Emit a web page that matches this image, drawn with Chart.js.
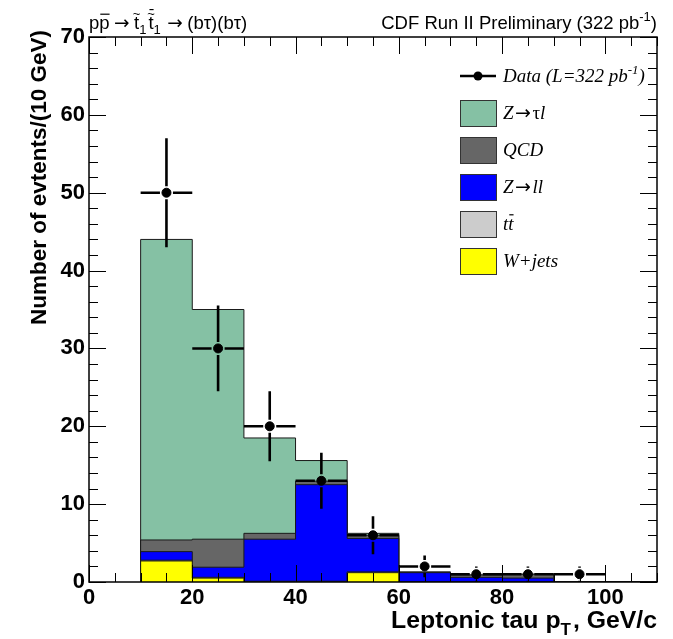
<!DOCTYPE html>
<html>
<head>
<meta charset="utf-8">
<script src="https://cdn.jsdelivr.net/npm/chart.js@4.4.1/dist/chart.umd.min.js"></script>
<style>
  html, body { margin: 0; padding: 0; background: #fff; }
</style>
</head>
<body>
<canvas id="tauChart" width="673" height="639"></canvas>
<script>
// bin edges in GeV/c (10 GeV bins)
const binEdges = [10, 20, 30, 40, 50, 60, 70, 80, 90, 100, 110];

// backgrounds, events per bin, bottom of the stack first
const wJets = [2.7, 0.5, 0, 0, 1.2, 0, 0, 0, 0, 0];
const ttbar = [0.1, 0.1, 0.1, 0.1, 0.1, 0, 0, 0, 0, 0];
const zLL = [1.1, 1.3, 5.4, 12.4, 4.3, 1.2, 0.6, 0.5, 0, 0];
const qcd = [1.5, 3.6, 0.75, 0.45, 0.4, 0.05, 0.3, 0.5, 0, 0];
const zTauL = [38.6, 29.5, 12.25, 2.65, 0.25, 0.05, 0, 0, 0, 0];

// data points with error bars
const dataX = [15, 25, 35, 45, 55, 65, 75, 85, 95];
const dataY = [50, 30, 20, 13, 6, 2, 1, 1, 1];
const dataLow = [43, 24.5, 15.5, 9.4, 3.55, 0.6, 0, 0, 0];
const dataHigh = [57, 35.5, 24.5, 16.6, 8.45, 3.4, 2, 2, 2];

const xTicks = [0, 20, 40, 60, 80, 100];
const yTicks = [0, 10, 20, 30, 40, 50, 60, 70];

const ARROW = { t: '\u2192', arrow: true, pad: 3 };
const WIDE_ARROW = { t: '\u2192', arrow: true, pad: 9 };

const components = [
    { label: [{ t: 'W+jets' }], values: wJets, color: '#ffff00' },
    { label: [{ t: 't' }, { t: 't', bar: true }], values: ttbar, color: '#cccccc' },
    { label: [{ t: 'Z' }, ARROW, { t: 'll' }], values: zLL, color: '#0000ff' },
    { label: [{ t: 'QCD' }], values: qcd, color: '#666666' },
    { label: [{ t: 'Z' }, ARROW, { t: '\u03c4', plain: true }, { t: 'l' }], values: zTauL, color: '#85c1a4' }
];
const dataLabel = [{ t: 'Data (L=322 pb' }, { t: '-1', sup: true }, { t: ')' }];

// cumulative stack drawn as filled step outlines
let running = wJets.map(() => 0);
const stackDatasets = components.map((c, i) => {
    running = running.map((v, j) => v + c.values[j]);
    const pts = [{ x: binEdges[0], y: 0 }];
    running.forEach((v, j) => pts.push({ x: binEdges[j], y: v }));
    pts.push({ x: binEdges[binEdges.length - 1], y: 0 });
    return {
        type: 'line',
        data: pts,
        stepped: 'before',
        fill: 'origin',
        backgroundColor: c.color,
        borderColor: '#1a1a1a',
        borderWidth: 1,
        pointRadius: 0,
        order: i + 1
    };
});

const dataDataset = {
    type: 'line',
    data: dataX.map((x, i) => ({ x: x, y: dataY[i] })),
    showLine: false,
    pointRadius: 4.5,
    pointBackgroundColor: '#000',
    pointBorderColor: '#000',
    order: 0
};

// draws a list of text pieces (subscripts, superscripts, overlines, tildes)
function drawRuns(ctx, runs, x, y, size, family, weight, style, align) {
    const fontFor = r => {
        const s = (r.sub || r.sup) ? Math.round(size * 0.68) : size;
        const st = (r.plain || r.arrow) ? 'normal' : style;
        const fam = r.arrow ? '"DejaVu Sans", sans-serif' : family;
        return st + ' ' + (r.arrow ? 'normal' : weight) + ' ' + s + 'px ' + fam;
    };
    let total = 0;
    runs.forEach(r => {
        ctx.font = fontFor(r);
        r.w = ctx.measureText(r.t).width + (r.pad || 0) + (r.sub ? 2 : 0);
        total += r.w;
    });
    let cx = align === 'right' ? x - total : x;
    ctx.textAlign = 'left';
    ctx.textBaseline = 'alphabetic';
    runs.forEach(r => {
        ctx.font = fontFor(r);
        const dy = r.sub ? size * 0.28 : (r.sup ? -size * 0.42 : 0);
        ctx.fillText(r.t, cx + (r.pad || 0) / 2, y + dy);
        let top = y - size * 0.8;
        if (r.tilde) {
            ctx.save();
            ctx.font = 'normal ' + Math.round(size * 0.7) + 'px ' + family;
            ctx.textAlign = 'center';
            ctx.fillText('~', cx + r.w / 2, y - size * 0.62);
            ctx.restore();
            top = y - size * 1.05;
        }
        if (r.bar) {
            ctx.save();
            ctx.lineWidth = 1.2;
            ctx.beginPath();
            ctx.moveTo(cx + 1, top);
            ctx.lineTo(cx + r.w, top);
            ctx.stroke();
            ctx.restore();
        }
        cx += r.w;
    });
}

const errorBars = {
    id: 'errorBars',
    afterDatasetsDraw(chart) {
        const { ctx, scales: { x, y } } = chart;
        const gap = 6.5;
        ctx.save();
        ctx.strokeStyle = '#000';
        ctx.lineWidth = 2.6;
        dataX.forEach((v, i) => {
            const px = x.getPixelForValue(v);
            const py = y.getPixelForValue(dataY[i]);
            const left = x.getPixelForValue(binEdges[i]);
            const right = x.getPixelForValue(binEdges[i + 1]);
            const top = y.getPixelForValue(dataHigh[i]);
            const bot = y.getPixelForValue(dataLow[i]);
            ctx.beginPath();
            ctx.moveTo(left, py); ctx.lineTo(px - gap, py);
            ctx.moveTo(px + gap, py); ctx.lineTo(right, py);
            if (top < py - gap) { ctx.moveTo(px, top); ctx.lineTo(px, py - gap); }
            if (bot > py + gap) { ctx.moveTo(px, py + gap); ctx.lineTo(px, bot); }
            ctx.stroke();
        });
        ctx.restore();
    }
};

const frameAndText = {
    id: 'frameAndText',
    afterDraw(chart) {
        const { ctx, chartArea: a, scales: { x, y } } = chart;
        ctx.save();
        ctx.strokeStyle = '#000';
        ctx.fillStyle = '#000';

        // frame
        ctx.lineWidth = 1.5;
        ctx.strokeRect(a.left, a.top, a.right - a.left, a.bottom - a.top);

        // inward ticks on all four sides
        ctx.lineWidth = 1;
        ctx.beginPath();
        for (let v = x.min; v <= x.max; v += 5) {
            const px = Math.round(x.getPixelForValue(v)) + 0.5;
            const len = v % 20 === 0 ? 17 : 9;
            ctx.moveTo(px, a.bottom); ctx.lineTo(px, a.bottom - len);
            ctx.moveTo(px, a.top); ctx.lineTo(px, a.top + len);
        }
        for (let v = y.min; v <= y.max; v += 2) {
            const py = Math.round(y.getPixelForValue(v)) + 0.5;
            const len = v % 10 === 0 ? 17 : 9;
            ctx.moveTo(a.left, py); ctx.lineTo(a.left + len, py);
            ctx.moveTo(a.right, py); ctx.lineTo(a.right - len, py);
        }
        ctx.stroke();

        const sans = '"Liberation Sans", Arial, sans-serif';
        const serif = '"Liberation Serif", "Times New Roman", serif';

        // header texts
        drawRuns(ctx, [
            { t: 'p' }, { t: 'p', bar: true }, WIDE_ARROW,
            { t: 't', tilde: true }, { t: '1', sub: true },
            { t: 't', tilde: true, bar: true }, { t: '1', sub: true },
            WIDE_ARROW, { t: '(b\u03c4)(b\u03c4)' }
        ], a.left, 29, 18.5, sans, 'normal', 'normal', 'left');
        drawRuns(ctx, [{ t: 'CDF Run II Preliminary (322 pb' }, { t: '-1', sup: true }, { t: ')' }],
            a.right, 29, 18.5, sans, 'normal', 'normal', 'right');

        // axis titles
        drawRuns(ctx, [{ t: 'Leptonic tau p' }, { t: 'T', sub: true }, { t: ', GeV/c' }],
            a.right, 628, 24.8, sans, 'bold', 'normal', 'right');
        ctx.save();
        ctx.translate(46, 30);
        ctx.rotate(-Math.PI / 2);
        drawRuns(ctx, [{ t: 'Number of evtents/(10 GeV)' }], 0, 0, 22.5, sans, 'bold', 'normal', 'right');
        ctx.restore();

        // legend
        const lx = 460, sw = 36, sh = 26, tx = 503;
        let ly = 76;
        ctx.lineWidth = 2.6;
        ctx.beginPath();
        ctx.moveTo(lx, ly); ctx.lineTo(lx + sw, ly);
        ctx.stroke();
        ctx.beginPath();
        ctx.arc(lx + sw / 2, ly, 4.5, 0, Math.PI * 2);
        ctx.fill();
        drawRuns(ctx, dataLabel, tx, ly + 6, 19, serif, 'normal', 'italic', 'left');
        components.slice().reverse().forEach(c => {
            ly += 37;
            ctx.fillStyle = c.color;
            ctx.fillRect(lx, ly - sh / 2, sw, sh);
            ctx.strokeStyle = '#333';
            ctx.lineWidth = 1;
            ctx.strokeRect(lx + 0.5, ly - sh / 2 + 0.5, sw, sh);
            ctx.fillStyle = '#000';
            ctx.strokeStyle = '#000';
            drawRuns(ctx, c.label, tx, ly + 6, 19, serif, 'normal', 'italic', 'left');
        });
        ctx.restore();
    }
};

const tickFont = { family: '"Liberation Sans", Arial, sans-serif', size: 22, weight: 'bold' };

new Chart(document.getElementById('tauChart'), {
    type: 'line',
    data: { datasets: [dataDataset, ...stackDatasets] },
    options: {
        responsive: false,
        animation: false,
        layout: { padding: { top: 37, right: 16, bottom: 0, left: 0 } },
        plugins: { legend: { display: false }, tooltip: { enabled: false } },
        scales: {
            x: {
                type: 'linear',
                min: 0,
                max: 110,
                afterFit: s => { s.height = 57; },
                afterBuildTicks: s => { s.ticks = xTicks.map(v => ({ value: v })); },
                grid: { display: false, drawTicks: false },
                border: { display: false },
                ticks: { font: tickFont, color: '#000', padding: 3, maxRotation: 0, autoSkip: false }
            },
            y: {
                min: 0,
                max: 70,
                afterFit: s => { s.width = 89; },
                afterBuildTicks: s => { s.ticks = yTicks.map(v => ({ value: v })); },
                grid: { display: false, drawTicks: false },
                border: { display: false },
                ticks: { font: tickFont, color: '#000', padding: 4, autoSkip: false }
            }
        }
    },
    plugins: [errorBars, frameAndText]
});
</script>
</body>
</html>
